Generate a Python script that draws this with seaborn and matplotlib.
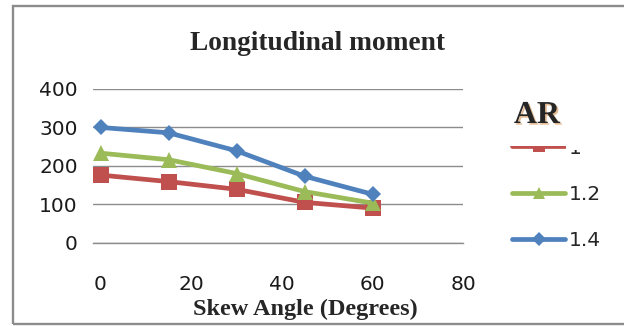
import matplotlib
matplotlib.use("Agg")
import matplotlib.pyplot as plt
import matplotlib.patheffects as pe
from matplotlib.patches import Rectangle
import pandas as pd
import seaborn as sns

# Longitudinal moment versus skew angle for three aspect ratios
skew_angle = [0, 15, 30, 45, 60]
moment_ar_1_0 = [176, 159, 139, 105, 90]
moment_ar_1_2 = [233, 216, 180, 133, 103]
moment_ar_1_4 = [300, 286, 239, 173, 126]
ar_labels = ["1", "1.2", "1.4"]
x_ticks = [0, 20, 40, 60, 80]
y_ticks = [0, 100, 200, 300, 400]

series = [moment_ar_1_0, moment_ar_1_2, moment_ar_1_4]
df = pd.concat(
    [pd.DataFrame({"angle": skew_angle, "moment": vals, "AR": lab})
     for lab, vals in zip(ar_labels, series)],
    ignore_index=True,
)

sns.set_style("white")
plt.rcParams["font.family"] = ["DejaVu Sans"]

colors = ["#C0504D", "#9BBB59", "#4F81BD"]
markers = ["s", "^", "D"]
msizes = [11.5, 11.5, 8.5]
grey = "#8c8c8c"
W, H = 624, 326

fig = plt.figure(figsize=(W / 100, H / 100), dpi=100)
ax = fig.add_axes([93.3 / W, 1 - 242.7 / H, 370 / W, 153.7 / H])

for lab, c, m, ms in zip(ar_labels, colors, markers, msizes):
    sns.lineplot(data=df[df["AR"] == lab], x="angle", y="moment", ax=ax,
                 color=c, marker=m, markersize=ms, markeredgewidth=0,
                 linewidth=3.4, label=lab, sort=False)

ax.set_xlim(-1.6, 80)
ax.set_ylim(0, 400)
ax.set_xticks(x_ticks)
ax.set_yticks(y_ticks)
ax.set_xlabel("")
ax.set_ylabel("")
ax.grid(axis="y", color=grey, linewidth=1.0)
ax.set_axisbelow(True)
for side in ["left", "right", "top"]:
    ax.spines[side].set_visible(False)
ax.spines["bottom"].set_color(grey)
ax.spines["bottom"].set_linewidth(1.0)
ax.tick_params(axis="x", direction="out", length=5, width=1, color=grey,
               pad=18.5, labelsize=14.5, labelcolor="#1a1a1a")
ax.tick_params(axis="y", length=0, pad=11.2, labelsize=14.5,
               labelcolor="#1a1a1a")
ax.xaxis.get_major_ticks()[0].tick1line.set_visible(False)

ax.legend(loc="upper left", bbox_to_anchor=(512 / W, 1 - 138.5 / H),
          bbox_transform=fig.transFigure, frameon=False, fontsize=14.5,
          handlelength=2.65, handletextpad=0.15, labelspacing=1.36,
          borderpad=0, borderaxespad=0, markerscale=0.8)

fig.text(318 / W, 1 - 50 / H, "Longitudinal moment", ha="center",
         va="baseline", fontfamily="Liberation Serif", fontweight="bold",
         fontsize=19.7)
fig.text(305 / W, 1 - 315 / H, "Skew Angle (Degrees)", ha="center",
         va="baseline", fontfamily="Liberation Serif", fontweight="bold",
         fontsize=17.5)
fig.text(537 / W, 1 - 123 / H, "AR", ha="center", va="baseline",
         fontfamily="Liberation Serif", fontweight="bold", fontsize=23,
         path_effects=[pe.withSimplePatchShadow(offset=(1.2, -1.2),
                                                shadow_rgbFace="#d9a066",
                                                alpha=0.7)])

# the title block hides the upper part of the first legend entry
fig.add_artist(Rectangle((505 / W, 1 - 145.5 / H), 110 / W, 19.5 / H,
                         transform=fig.transFigure, facecolor="white",
                         edgecolor="none", zorder=6))
fig.add_artist(Rectangle((566 / W, 1 - 150 / H), 30 / W, 24 / H,
                         transform=fig.transFigure, facecolor="white",
                         edgecolor="none", zorder=6))

# chart frame
fig.add_artist(Rectangle((12.5 / W, 1 - 323.5 / H), 700 / W, 317.3 / H,
                         transform=fig.transFigure, fill=False,
                         edgecolor=grey, linewidth=1.7, clip_on=False,
                         zorder=7))

fig.savefig("out.png", dpi=100)
